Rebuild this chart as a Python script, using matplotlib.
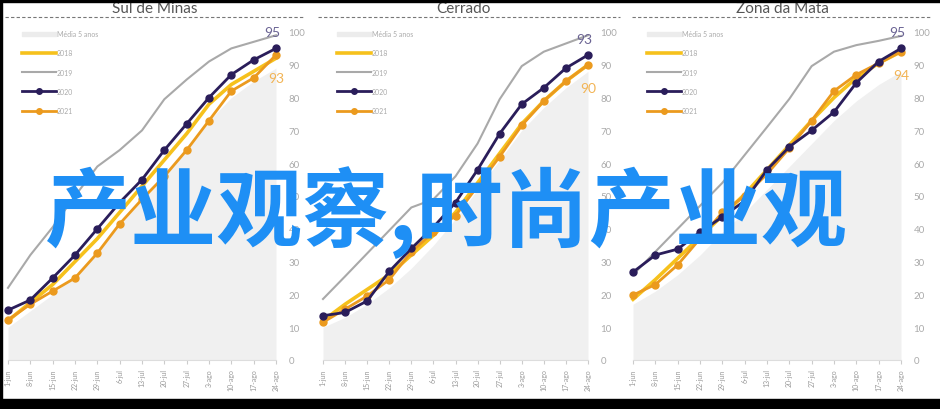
import matplotlib.pyplot as plt
import matplotlib.patches as mpatches
from matplotlib.lines import Line2D
import numpy as np

plt.rcParams['font.family'] = ['Lato', 'DejaVu Sans']

semanas = ['1-jun', '8-jun', '15-jun', '22-jun', '29-jun', '6-jul', '13-jul',
           '20-jul', '27-jul', '3-ago', '10-ago', '17-ago', '24-ago']

regioes = ['Sul de Minas', 'Cerrado', 'Zona da Mata']

# Média 5 anos (área)
media = [
    [10, 15, 20, 26, 33, 41, 49, 57, 65, 73, 80, 85, 89],
    [10, 13, 17, 22, 28, 35, 43, 52, 61, 70, 77, 83, 88],
    [17, 21, 26, 32, 39, 45, 52, 59, 66, 73, 79, 84, 88],
]
s2018 = [
    [12, 17.5, 23, 30, 37, 45, 53, 61, 69, 78, 84, 88, 92],
    [12, 17, 21.5, 26, 32, 38, 45, 54, 63, 72, 79, 85, 90],
    [18.5, 24.5, 31, 37.5, 44, 50.5, 58, 65.5, 73, 80, 86, 90.5, 94],
]
s2019 = [
    [22, 32, 40.5, 50, 59, 64, 70, 79.5, 85.5, 91, 95, 97, 99],
    [18.6, 25.5, 32.5, 39.5, 46.5, 49, 56, 66, 79.5, 89.6, 94, 96.5, 99],
    [26, 33, 40, 47, 54, 62.5, 71, 79.6, 89.6, 94, 96, 97.3, 98.8],
]
s2020 = [
    [15.2, 18.3, 25, 32, 40, 48, 55, 64, 72, 80, 87, 91.5, 95],
    [13.5, 14.5, 18, 27, 34, 40.5, 48, 58, 69, 78, 83, 89, 93],
    [26.8, 32, 33.8, 39, 43.6, 48.5, 58, 65, 70, 75.6, 84.5, 91, 95],
]
s2021 = [
    [12.2, 17, 21, 25, 32.6, 41.5, 49, 56, 64, 73, 82, 86, 93],
    [11.5, 15.5, 19.5, 24.5, 33, 39, 44, 53, 62, 71.5, 79, 85, 90],
    [19.8, 23, 29, 37, 45, 50, 56.7, 64.6, 73, 82, 87, 90.5, 94],
]
final_2020 = ['95', '93', '95']
final_2021 = ['93', '90', '94']

W, H = 940, 410
fig = plt.figure(figsize=(9.4, 4.1), dpi=100)

# pixel layout of each panel: first point x, last point x, title x, dashed line span
paineis = [(8, 276, 155, 5, 305), (323, 588, 463, 318, 620), (633, 901, 782, 632, 930)]
y0, y100 = 361, 33

c18, c19, c20, c21 = '#f6c11c', '#a9a9a9', '#2a1d5a', '#eb9a1e'
cmed = '#f0f0f0'
x = np.arange(len(semanas))

for i, (xa, xb, xt, d0, d1) in enumerate(paineis):
    ax = fig.add_axes([xa / W, 1 - y0 / H, (xb - xa) / W, (y0 - y100) / H])
    ax.fill_between(x, 0, media[i], color=cmed, lw=0, zorder=1)
    ax.plot(x, s2019[i], color=c19, lw=1.5, zorder=2, clip_on=False)
    ax.plot(x, s2018[i], color=c18, lw=2.6, zorder=3, clip_on=False)
    ax.plot(x, s2021[i], color=c21, lw=2, marker='o', ms=5, zorder=4, clip_on=False)
    ax.plot(x, s2020[i], color=c20, lw=2, marker='o', ms=5, zorder=5, clip_on=False)
    ax.text(11.85, s2020[i][-1] + 5, final_2020[i], color='#6a6393', fontsize=10,
            ha='center', va='center', zorder=6)
    ax.text(12, s2021[i][-1] - 7, final_2021[i], color='#f2b455', fontsize=10,
            ha='center', va='center', zorder=6)
    ax.set_xlim(0, 12)
    ax.set_ylim(0, 100)
    for s in ['top', 'left', 'right']:
        ax.spines[s].set_visible(False)
    ax.spines['bottom'].set_color('#dddddd')
    ax.spines['bottom'].set_linewidth(0.8)
    ax.yaxis.tick_right()
    ax.set_yticks(range(0, 101, 10))
    ax.tick_params(axis='y', length=0, pad=9, labelsize=7, labelcolor='#aaaaaa')
    ax.set_xticks(x)
    ax.set_xticklabels(semanas, rotation=90)
    ax.tick_params(axis='x', length=3, color='#cccccc', pad=3, labelsize=5,
                   labelcolor='#999999')
    ax.patch.set_alpha(0)

    fig.text(xt / W, 1 - 9 / H, regioes[i], ha='center', va='center',
             fontsize=11, color='#555555')
    fig.add_artist(Line2D([d0 / W, d1 / W], [1 - 18 / H, 1 - 18 / H],
                          color='#777777', lw=0.8, ls=(0, (3, 2))))

    handles = [mpatches.Patch(color='#ececec', label='Média 5 anos'),
               Line2D([], [], color=c18, lw=2.6, label='2018'),
               Line2D([], [], color=c19, lw=1.5, label='2019'),
               Line2D([], [], color=c20, lw=2, marker='o', ms=4, label='2020'),
               Line2D([], [], color=c21, lw=2, marker='o', ms=4, label='2021')]
    fig.legend(handles=handles, loc='upper left',
               bbox_to_anchor=((xa + 8) / W, 1 - 25 / H), frameon=False,
               fontsize=5, handlelength=4.8, handleheight=0.6,
               labelspacing=1.75, handletextpad=0.2, labelcolor='#aaaaaa')

fig.text(447 / W, 1 - 213 / H, '产业观察,时尚产业观', ha='center', va='center',
         fontsize=62, color='#1e8ff5', fontweight='bold',
         family=['Noto Sans CJK SC', 'DejaVu Sans'], zorder=20)

# black frame bands
fig.add_artist(mpatches.Rectangle((0, 0), 1, 10 / H, color='black',
                                  transform=fig.transFigure, zorder=30))
fig.add_artist(mpatches.Rectangle((0, 1 - 3 / H), 1, 3 / H, color='black',
                                  transform=fig.transFigure, zorder=30))
fig.add_artist(mpatches.Rectangle((0, 0), 2 / W, 1, color='black',
                                  transform=fig.transFigure, zorder=30))

fig.savefig('out.png', dpi=100)
